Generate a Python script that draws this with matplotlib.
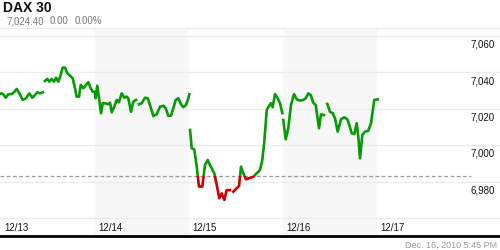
import numpy as np
import matplotlib
matplotlib.use("Agg")
import matplotlib.pyplot as plt
import matplotlib.transforms as mtransforms
from matplotlib.patches import Rectangle

plt.rcParams['font.family'] = ['Liberation Sans', 'DejaVu Sans']

title = "DAX 30"
last_price = "7,024.40"
change = "0.00"
change_pct = "0.00%"
timestamp = "Dec. 16, 2010 5:45 PM"
prev_close = 6983.0

day_labels = ["12/13", "12/14", "12/15", "12/16", "12/17"]
day_starts = [0, 1, 2, 3, 4]
shaded_days = [1, 3]

y_ticks = [7060, 7040, 7020, 7000, 6980]
y_tick_labels = ["7,060", "7,040", "7,020", "7,000", "6,980"]
grid_levels = [7060, 7040, 7020, 7000, 6980, 6960]

nan = np.nan
# time in trading days since 12/13 start; NaN marks a data gap
times = [
    -0.011, 0.007, 0.024, 0.050, 0.078, 0.114, 0.138, 0.167, 0.195, 0.231, 0.266, 0.301,
    0.333, 0.362, 0.386, 0.415, 0.444, nan,
    0.468, 0.493, 0.514, 0.539, 0.564, 0.585, 0.610, 0.635, 0.656, 0.681, 0.705, 0.734,
    0.763, 0.787, 0.805, 0.830, 0.848, 0.876, 0.904, 0.929, 0.954, 0.976, 0.997, 1.007,
    1.024, 1.043, 1.064, 1.082, 1.106, 1.135, 1.160, 1.178, 1.205, 1.231, 1.255, 1.284,
    1.312, 1.337, 1.354, 1.383, 1.407, 1.436, nan,
    1.468, 1.497, 1.532, 1.561, 1.585, 1.620, 1.656, 1.691, 1.727, 1.752, 1.780, 1.809,
    1.833, 1.859, 1.886, 1.915, 1.939, 1.968, 1.993, 2.003, nan,
    2.011, 2.029, 2.056, 2.082, 2.106, 2.141, 2.170, 2.199, 2.223, 2.269, 2.295, 2.322,
    2.348, 2.376, 2.401, 2.436, nan,
    2.471, 2.507, 2.532, 2.553, 2.578, 2.606, 2.638, 2.684, 2.720, 2.755, 2.780, 2.801,
    2.827, 2.851, 2.872, 2.890, 2.915, 2.944, 2.968, 2.993, nan,
    3.003, 3.029, 3.056, 3.085, 3.117, 3.146, 3.181, 3.216, 3.241, 3.269, 3.295, 3.322,
    3.348, 3.383, 3.404, 3.436, nan,
    3.471, 3.500, 3.529, 3.553, 3.582, 3.617, 3.652, 3.684, 3.705, 3.731, 3.759, 3.784,
    3.801, 3.819, 3.844, 3.872, 3.907, 3.936, 3.971, 4.007,
]
prices = [
    7027.9, 7028.3, 7027.8, 7025.9, 7027.8, 7027.9, 7028.9, 7030.7, 7028.3, 7024.7, 7025.6, 7028.3,
    7025.9, 7027.4, 7028.9, 7028.3, 7028.9, nan,
    7035.1, 7036.2, 7034.7, 7036.2, 7034.7, 7036.9, 7034.7, 7038.4, 7042.4, 7042.4, 7039.3, 7038.0,
    7036.5, 7031.1, 7026.5, 7026.5, 7032.9, 7031.1, 7032.9, 7034.4, 7031.1, 7029.2, 7029.2, 7025.6,
    7032.5, 7025.6, 7017.4, 7022.9, 7022.9, 7022.3, 7023.2, 7017.9, 7021.0, 7024.7, 7023.4, 7028.3,
    7025.9, 7026.5, 7025.6, 7018.2, 7023.7, 7024.7, nan,
    7022.3, 7022.9, 7025.9, 7025.6, 7021.9, 7015.9, 7016.8, 7021.0, 7021.5, 7020.1, 7015.9, 7016.1,
    7020.1, 7024.7, 7025.6, 7022.3, 7020.7, 7021.9, 7025.6, 7027.8, nan,
    7008.2, 6998.2, 6997.6, 6988.1, 6977.2, 6977.2, 6989.0, 6991.8, 6989.0, 6984.5, 6978.1, 6970.8,
    6973.5, 6969.9, 6975.3, 6975.3, nan,
    6974.4, 6976.3, 6977.5, 6988.1, 6984.5, 6981.2, 6981.8, 6982.6, 6984.5, 6986.3, 6991.8, 7001.8,
    7019.2, 7021.4, 7022.9, 7020.7, 7027.9, 7025.6, 7022.9, 7017.4, nan,
    7013.7, 7003.1, 7009.2, 7021.9, 7027.9, 7025.0, 7024.3, 7024.7, 7025.6, 7028.3, 7027.4, 7023.2,
    7021.9, 7009.2, 7016.8, 7016.4, nan,
    7022.5, 7018.2, 7017.4, 7014.6, 7007.3, 7014.1, 7015.2, 7014.1, 7011.0, 7006.4, 7006.0, 7011.9,
    7004.5, 6992.7, 7005.5, 7007.3, 7007.8, 7011.9, 7024.7, 7025.0,
]

# ---- layout (pixel-based mapping) ----
W, H = 500, 250
px_per_day = 94.0
x0_px = 1.0
px_per_unit = 1.825
y_ref_px, y_ref_val = 35.5, 7060.0

def px_to_t(px):
    return (px - x0_px) / px_per_day

def py_to_v(py):
    return y_ref_val - (py - y_ref_px) / px_per_unit

fig = plt.figure(figsize=(W / 100, H / 100), dpi=100)
fig.patch.set_facecolor("white")
ax = fig.add_axes([0, 0, 1, 1])
ax.set_axis_off()
ax.set_xlim(px_to_t(0), px_to_t(W))
ax.set_ylim(py_to_v(H), py_to_v(0))

# shaded alternate days
top_v = py_to_v(28)
bot_v = py_to_v(235)
for d in shaded_days:
    ax.add_patch(Rectangle((d, bot_v), 1, top_v - bot_v, facecolor="#f7f7f7",
                           edgecolor="none", zorder=0))

# grid lines
for g in grid_levels:
    ax.axhline(g, color="#ebebeb", lw=1.0, zorder=1)
ax.axhline(top_v, color="#ebebeb", lw=1.0, zorder=1)

# previous close dashed
ax.plot([px_to_t(0), 5.0], [prev_close, prev_close], color="#999999", lw=0.9,
        dashes=(3, 2), zorder=2)

# price line: green above previous close, red below
t = np.array(times, dtype=float)
p = np.array(prices, dtype=float)
xl = ax.get_xlim()
yl = ax.get_ylim()
green_line, = ax.plot(t, p, color="#079a07", lw=1.9, zorder=3, solid_joinstyle="round")
red_line, = ax.plot(t, p, color="#cc0000", lw=1.9, zorder=3, solid_joinstyle="round")
clip_up = Rectangle((xl[0], prev_close), xl[1] - xl[0], yl[1] - prev_close, transform=ax.transData)
clip_dn = Rectangle((xl[0], yl[0]), xl[1] - xl[0], prev_close - yl[0], transform=ax.transData)
green_line.set_clip_path(clip_up)
red_line.set_clip_path(clip_dn)

# y labels (right aligned, just below grid lines)
ytr = mtransforms.offset_copy(ax.get_yaxis_transform(), fig=fig, x=0, y=-4, units="dots")
for v, lab in zip(y_ticks, y_tick_labels):
    ax.text(0.99, v, lab, transform=ytr, ha="right", va="top", fontsize=7, color="#111111")

# date labels
xtr = mtransforms.offset_copy(ax.get_xaxis_transform(), fig=fig, x=3, y=0, units="dots")
for d, lab in zip(day_starts, day_labels):
    ax.text(d, 1 - 228 / H, lab, transform=xtr, ha="left", va="center", fontsize=7, color="#111111")

# bottom black line
ax.axhline(py_to_v(236.3), color="black", lw=2.0, zorder=4)

# header
ax.text(3 / W, 1 - 12.5 / H, title, transform=ax.transAxes, ha="left", va="baseline",
        fontsize=10, fontweight="bold", color="#111111")
for xpos, txt in zip([6, 50, 75], [last_price, change, change_pct]):
    ax.text(xpos / W, 1 - 24.2 / H, txt, transform=ax.transAxes, ha="left", va="baseline",
            fontsize=7, color="#777777")

# footer timestamp
ax.text(497 / W, 1 - 245 / H, timestamp, transform=ax.transAxes, ha="right", va="center",
        fontsize=6.5, color="#999999")

fig.savefig("out.png", dpi=100)
